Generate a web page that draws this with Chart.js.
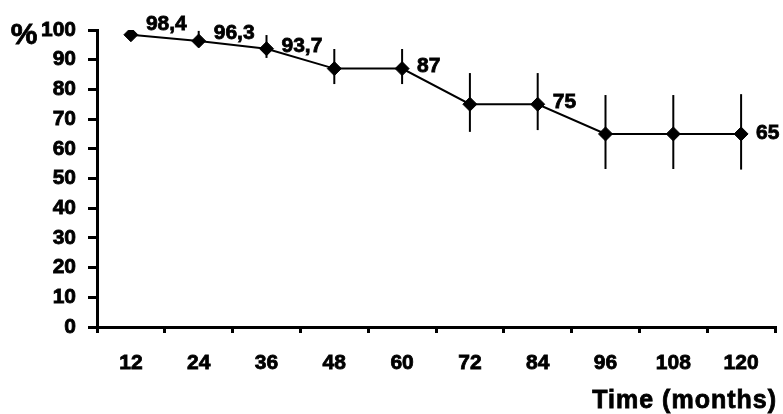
<!DOCTYPE html>
<html>
<head>
<meta charset="utf-8">
<script src="https://cdn.jsdelivr.net/npm/chart.js@4.4.1/dist/chart.umd.min.js"></script>
<style>
  html, body { margin: 0; padding: 0; background: #fff; }
  canvas { display: block; }
</style>
</head>
<body>
<canvas id="grafico" width="783" height="414"></canvas>
<script>
// data
const months = ['12', '24', '36', '48', '60', '72', '84', '96', '108', '120'];
const survival = [98.4, 96.3, 93.7, 87, 87, 75, 75, 65, 65, 65];
const errLow = [98.4, 94.3, 90.6, 81.8, 81.8, 65.7, 66.3, 53.2, 53.2, 53.0];
const errHigh = [98.4, 99.7, 98.3, 93.6, 93.6, 85.5, 85.5, 78.1, 78.1, 78.4];
const pointLabels = ['98,4', '96,3', '93,7', null, '87', null, '75', null, null, '65'];
const yTicks = [0, 10, 20, 30, 40, 50, 60, 70, 80, 90, 100];

const FONT = '"Liberation Sans", Arial, sans-serif';

// bold text with a thin outline, the scan looks heavier than plain bold
function heavyText(ctx, txt, x, y) {
  ctx.fillText(txt, x, y);
  ctx.strokeText(txt, x, y);
}

// error bars, drawn under the markers
const errorBars = {
  id: 'errorBars',
  beforeDatasetsDraw(chart) {
    const { ctx, scales } = chart;
    const meta = chart.getDatasetMeta(0);
    ctx.save();
    ctx.strokeStyle = '#000';
    ctx.lineWidth = 2;
    meta.data.forEach((pt, i) => {
      if (errHigh[i] === errLow[i]) return;
      ctx.beginPath();
      ctx.moveTo(pt.x, scales.y.getPixelForValue(errHigh[i]));
      ctx.lineTo(pt.x, scales.y.getPixelForValue(errLow[i]));
      ctx.stroke();
    });
    ctx.restore();
  }
};

// value labels next to some points
const valueLabels = {
  id: 'valueLabels',
  afterDatasetsDraw(chart, args, opts) {
    const { ctx } = chart;
    const meta = chart.getDatasetMeta(0);
    ctx.save();
    ctx.fillStyle = '#000';
    ctx.strokeStyle = '#000';
    ctx.lineWidth = 0.8;
    ctx.font = 'bold 21px ' + FONT;
    ctx.textAlign = 'left';
    ctx.textBaseline = 'middle';
    meta.data.forEach((pt, i) => {
      if (!pointLabels[i]) return;
      heavyText(ctx, pointLabels[i], pt.x + opts.dx, pt.y + opts.dy[i]);
    });
    ctx.restore();
  }
};

// "%" and "Time (months)"
const axisTexts = {
  id: 'axisTexts',
  afterDraw(chart) {
    const { ctx, chartArea } = chart;
    ctx.save();
    ctx.fillStyle = '#000';
    ctx.strokeStyle = '#000';
    ctx.lineWidth = 0.8;
    ctx.textBaseline = 'middle';
    ctx.font = 'bold 30px ' + FONT;
    ctx.textAlign = 'center';
    heavyText(ctx, '%', 24, chartArea.top + 6);
    ctx.font = 'bold 25px ' + FONT;
    ctx.letterSpacing = '1px';
    ctx.textAlign = 'right';
    heavyText(ctx, 'Time (months)', chartArea.right + 2, 401);
    ctx.restore();
  }
};

new Chart(document.getElementById('grafico'), {
  type: 'line',
  data: {
    labels: months,
    datasets: [{
      data: survival,
      borderColor: '#000',
      borderWidth: 2,
      tension: 0,
      pointStyle: 'rectRot',
      pointRadius: 7,
      pointBackgroundColor: '#000',
      pointBorderColor: '#000',
      pointBorderWidth: 1,
      fill: false
    }]
  },
  options: {
    responsive: false,
    animation: false,
    devicePixelRatio: 1,
    layout: { padding: { top: 30, right: 7, left: 0, bottom: 0 } },
    plugins: {
      legend: { display: false },
      tooltip: { enabled: false },
      valueLabels: { dx: 15, dy: [-11, -8, -3, 0, -2, 0, -2, 0, 0, -1] }
    },
    scales: {
      x: {
        type: 'category',
        offset: true,
        grid: {
          offset: true,
          drawOnChartArea: false,
          drawTicks: true,
          tickLength: 6,
          lineWidth: 3,
          color: '#000'
        },
        border: { display: true, width: 3, color: '#000' },
        ticks: {
          color: '#000',
          padding: 18,
          maxRotation: 0,
          textStrokeColor: '#000',
          textStrokeWidth: 0.8,
          font: { family: FONT, size: 21, weight: 'bold' }
        },
        afterFit(scale) { scale.height = 87; }
      },
      y: {
        min: 0,
        max: 100,
        afterBuildTicks(scale) { scale.ticks = yTicks.map(v => ({ value: v })); },
        grid: {
          drawOnChartArea: false,
          drawTicks: true,
          tickLength: 9,
          lineWidth: 3,
          color: '#000'
        },
        border: { display: true, width: 3, color: '#000' },
        ticks: {
          color: '#000',
          padding: 12,
          textStrokeColor: '#000',
          textStrokeWidth: 0.8,
          font: { family: FONT, size: 21, weight: 'bold' }
        },
        afterFit(scale) { scale.width = 97; }
      }
    }
  },
  plugins: [errorBars, valueLabels, axisTexts]
});
</script>
</body>
</html>
